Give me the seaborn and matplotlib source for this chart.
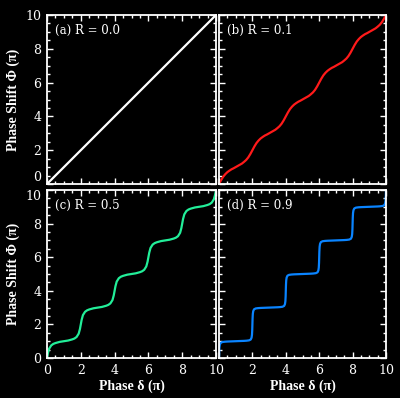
import matplotlib
matplotlib.use("Agg")
import matplotlib.pyplot as plt
import seaborn as sns
from matplotlib.ticker import MultipleLocator

# Phase delta (units of pi) and phase shift Phi (units of pi)
delta_a = [0.0, 10.0]
phi_a = [0.0, 10.0]

delta_b = [0.0, 0.125, 0.25, 0.375, 0.5, 0.625, 0.75, 0.875,
           1.0, 1.125, 1.25, 1.375, 1.5, 1.625, 1.75, 1.875,
           2.0, 2.125, 2.25, 2.375, 2.5, 2.625, 2.75, 2.875,
           3.0, 3.125, 3.25, 3.375, 3.5, 3.625, 3.75, 3.875,
           4.0, 4.125, 4.25, 4.375, 4.5, 4.625, 4.75, 4.875,
           5.0, 5.125, 5.25, 5.375, 5.5, 5.625, 5.75, 5.875,
           6.0, 6.125, 6.25, 6.375, 6.5, 6.625, 6.75, 6.875,
           7.0, 7.125, 7.25, 7.375, 7.5, 7.625, 7.75, 7.875,
           8.0, 8.125, 8.25, 8.375, 8.5, 8.625, 8.75, 8.875,
           9.0, 9.125, 9.25, 9.375, 9.5, 9.625, 9.75, 9.875,
           10.0]
phi_b = [0.00, 0.23, 0.43, 0.58, 0.70, 0.79, 0.87, 0.93,
         1.00, 1.07, 1.14, 1.21, 1.31, 1.42, 1.57, 1.77,
         2.00, 2.23, 2.43, 2.58, 2.70, 2.79, 2.87, 2.93,
         3.00, 3.07, 3.14, 3.21, 3.31, 3.42, 3.57, 3.77,
         4.00, 4.23, 4.43, 4.58, 4.70, 4.79, 4.87, 4.93,
         5.00, 5.07, 5.14, 5.21, 5.31, 5.42, 5.57, 5.77,
         6.00, 6.23, 6.43, 6.58, 6.70, 6.79, 6.87, 6.93,
         7.00, 7.07, 7.14, 7.21, 7.31, 7.42, 7.57, 7.77,
         8.00, 8.23, 8.43, 8.58, 8.70, 8.79, 8.87, 8.93,
         9.00, 9.07, 9.14, 9.21, 9.31, 9.42, 9.57, 9.77,
         10.00]

delta_c = [0.0, 0.05, 0.125, 0.25, 0.375, 0.5, 0.75, 1.0, 1.25, 1.5, 1.625, 1.75, 1.875, 1.95,
           2.0, 2.05, 2.125, 2.25, 2.375, 2.5, 2.75, 3.0, 3.25, 3.5, 3.625, 3.75, 3.875, 3.95,
           4.0, 4.05, 4.125, 4.25, 4.375, 4.5, 4.75, 5.0, 5.25, 5.5, 5.625, 5.75, 5.875, 5.95,
           6.0, 6.05, 6.125, 6.25, 6.375, 6.5, 6.75, 7.0, 7.25, 7.5, 7.625, 7.75, 7.875, 7.95,
           8.0, 8.05, 8.125, 8.25, 8.375, 8.5, 8.75, 9.0, 9.25, 9.5, 9.625, 9.75, 9.875, 9.95,
           10.0]
phi_c = [0.00, 0.27, 0.55, 0.75, 0.84, 0.89, 0.96, 1.00, 1.04, 1.11, 1.16, 1.25, 1.45, 1.73,
         2.00, 2.27, 2.55, 2.75, 2.84, 2.89, 2.96, 3.00, 3.04, 3.11, 3.16, 3.25, 3.45, 3.73,
         4.00, 4.27, 4.55, 4.75, 4.84, 4.89, 4.96, 5.00, 5.04, 5.11, 5.16, 5.25, 5.45, 5.73,
         6.00, 6.27, 6.55, 6.75, 6.84, 6.89, 6.96, 7.00, 7.04, 7.11, 7.16, 7.25, 7.45, 7.73,
         8.00, 8.27, 8.55, 8.75, 8.84, 8.89, 8.96, 9.00, 9.04, 9.11, 9.16, 9.25, 9.45, 9.73,
         10.00]

delta_d = [0.0, 0.01, 0.025, 0.05, 0.1, 0.2, 0.35, 0.5, 0.75, 1.0, 1.25, 1.5, 1.65, 1.8, 1.9, 1.95, 1.975, 1.99,
           2.0, 2.01, 2.025, 2.05, 2.1, 2.2, 2.35, 2.5, 2.75, 3.0, 3.25, 3.5, 3.65, 3.8, 3.9, 3.95, 3.975, 3.99,
           4.0, 4.01, 4.025, 4.05, 4.1, 4.2, 4.35, 4.5, 4.75, 5.0, 5.25, 5.5, 5.65, 5.8, 5.9, 5.95, 5.975, 5.99,
           6.0, 6.01, 6.025, 6.05, 6.1, 6.2, 6.35, 6.5, 6.75, 7.0, 7.25, 7.5, 7.65, 7.8, 7.9, 7.95, 7.975, 7.99,
           8.0, 8.01, 8.025, 8.05, 8.1, 8.2, 8.35, 8.5, 8.75, 9.0, 9.25, 9.5, 9.65, 9.8, 9.9, 9.95, 9.975, 9.99,
           10.0]
phi_d = [0.00, 0.34, 0.62, 0.79, 0.90, 0.95, 0.97, 0.98, 0.99, 1.00, 1.01, 1.02, 1.03, 1.05, 1.10, 1.21, 1.38, 1.66,
         2.00, 2.34, 2.62, 2.79, 2.90, 2.95, 2.97, 2.98, 2.99, 3.00, 3.01, 3.02, 3.03, 3.05, 3.10, 3.21, 3.38, 3.66,
         4.00, 4.34, 4.62, 4.79, 4.90, 4.95, 4.97, 4.98, 4.99, 5.00, 5.01, 5.02, 5.03, 5.05, 5.10, 5.21, 5.38, 5.66,
         6.00, 6.34, 6.62, 6.79, 6.90, 6.95, 6.97, 6.98, 6.99, 7.00, 7.01, 7.02, 7.03, 7.05, 7.10, 7.21, 7.38, 7.66,
         8.00, 8.34, 8.62, 8.79, 8.90, 8.95, 8.97, 8.98, 8.99, 9.00, 9.01, 9.02, 9.03, 9.05, 9.10, 9.21, 9.38, 9.66,
         10.00]

tags = ["(a) R = 0.0", "(b) R = 0.1", "(c) R = 0.5", "(d) R = 0.9"]
colors = ["white", "#ff1a1a", "#22ee99", "#0a84ff"]
ticks = [0, 2, 4, 6, 8, 10]
tick_labels = ["0", "2", "4", "6", "8", "10"]

sns.set_theme(style="dark", rc={
    "figure.facecolor": "black", "axes.facecolor": "black",
    "axes.edgecolor": "white", "axes.linewidth": 1.3,
    "text.color": "white", "axes.labelcolor": "white",
    "xtick.color": "white", "ytick.color": "white",
})
plt.rcParams['font.family'] = ['Liberation Serif', 'DejaVu Serif']

SERIF_WIDE = ['DejaVu Serif', 'Liberation Serif']


def draw_panel(fig, rect, x, y, color, tag, xlabels, ylabels, skip_x0=False, y0_va=None, y10_va=None):
    ax = fig.add_axes(rect)
    sns.lineplot(x=x, y=y, ax=ax, color=color, lw=1.6, estimator=None, sort=False)
    ax.set_xlim(0, 10)
    ax.set_ylim(0, 10)
    ax.grid(False)
    for sp in ax.spines.values():
        sp.set_color("white")
        sp.set_linewidth(1.3)
    ax.set_xticks(ticks)
    ax.set_yticks(ticks)
    ax.set_xticklabels([("" if (skip_x0 and t == "0") else t) for t in tick_labels], family=SERIF_WIDE)
    ax.set_yticklabels(tick_labels, family=SERIF_WIDE)
    ax.xaxis.set_minor_locator(MultipleLocator(0.5))
    ax.yaxis.set_minor_locator(MultipleLocator(0.5))
    ax.tick_params(which="both", direction="in", colors="white",
                   bottom=True, top=True, left=True, right=True,
                   labelbottom=xlabels, labelleft=ylabels, labelsize=9, width=1)
    ax.tick_params(which="major", length=4.5, pad=4)
    ax.tick_params(which="minor", length=2.5)
    ylabs = ax.get_yticklabels()
    if y0_va:
        ylabs[0].set_va(y0_va)
    if y10_va:
        ylabs[-1].set_va(y10_va)
    ax.set_xlabel("Phase δ (π)" if xlabels else "", fontsize=10, fontweight="bold", labelpad=2)
    ax.set_ylabel("Phase Shift Φ (π)" if ylabels else "", fontsize=10, fontweight="bold", labelpad=4)
    ax.text(0.05, 0.911, tag, transform=ax.transAxes, color="white", fontsize=8.5,
            va="center", family=SERIF_WIDE)
    return ax


fig = plt.figure(figsize=(4, 3.98), dpi=100)
draw_panel(fig, [0.1175, 0.5377, 0.4225, 0.4246], delta_a, phi_a, colors[0], tags[0], False, True,
           y0_va="bottom")
draw_panel(fig, [0.5475, 0.5377, 0.4175, 0.4246], delta_b, phi_b, colors[1], tags[1], False, False)
draw_panel(fig, [0.1175, 0.1005, 0.4225, 0.4221], delta_c, phi_c, colors[2], tags[2], True, True,
           y10_va="top")
draw_panel(fig, [0.5475, 0.1005, 0.4175, 0.4221], delta_d, phi_d, colors[3], tags[3], True, False,
           skip_x0=True)

fig.savefig("out.png", dpi=100, facecolor="black")
